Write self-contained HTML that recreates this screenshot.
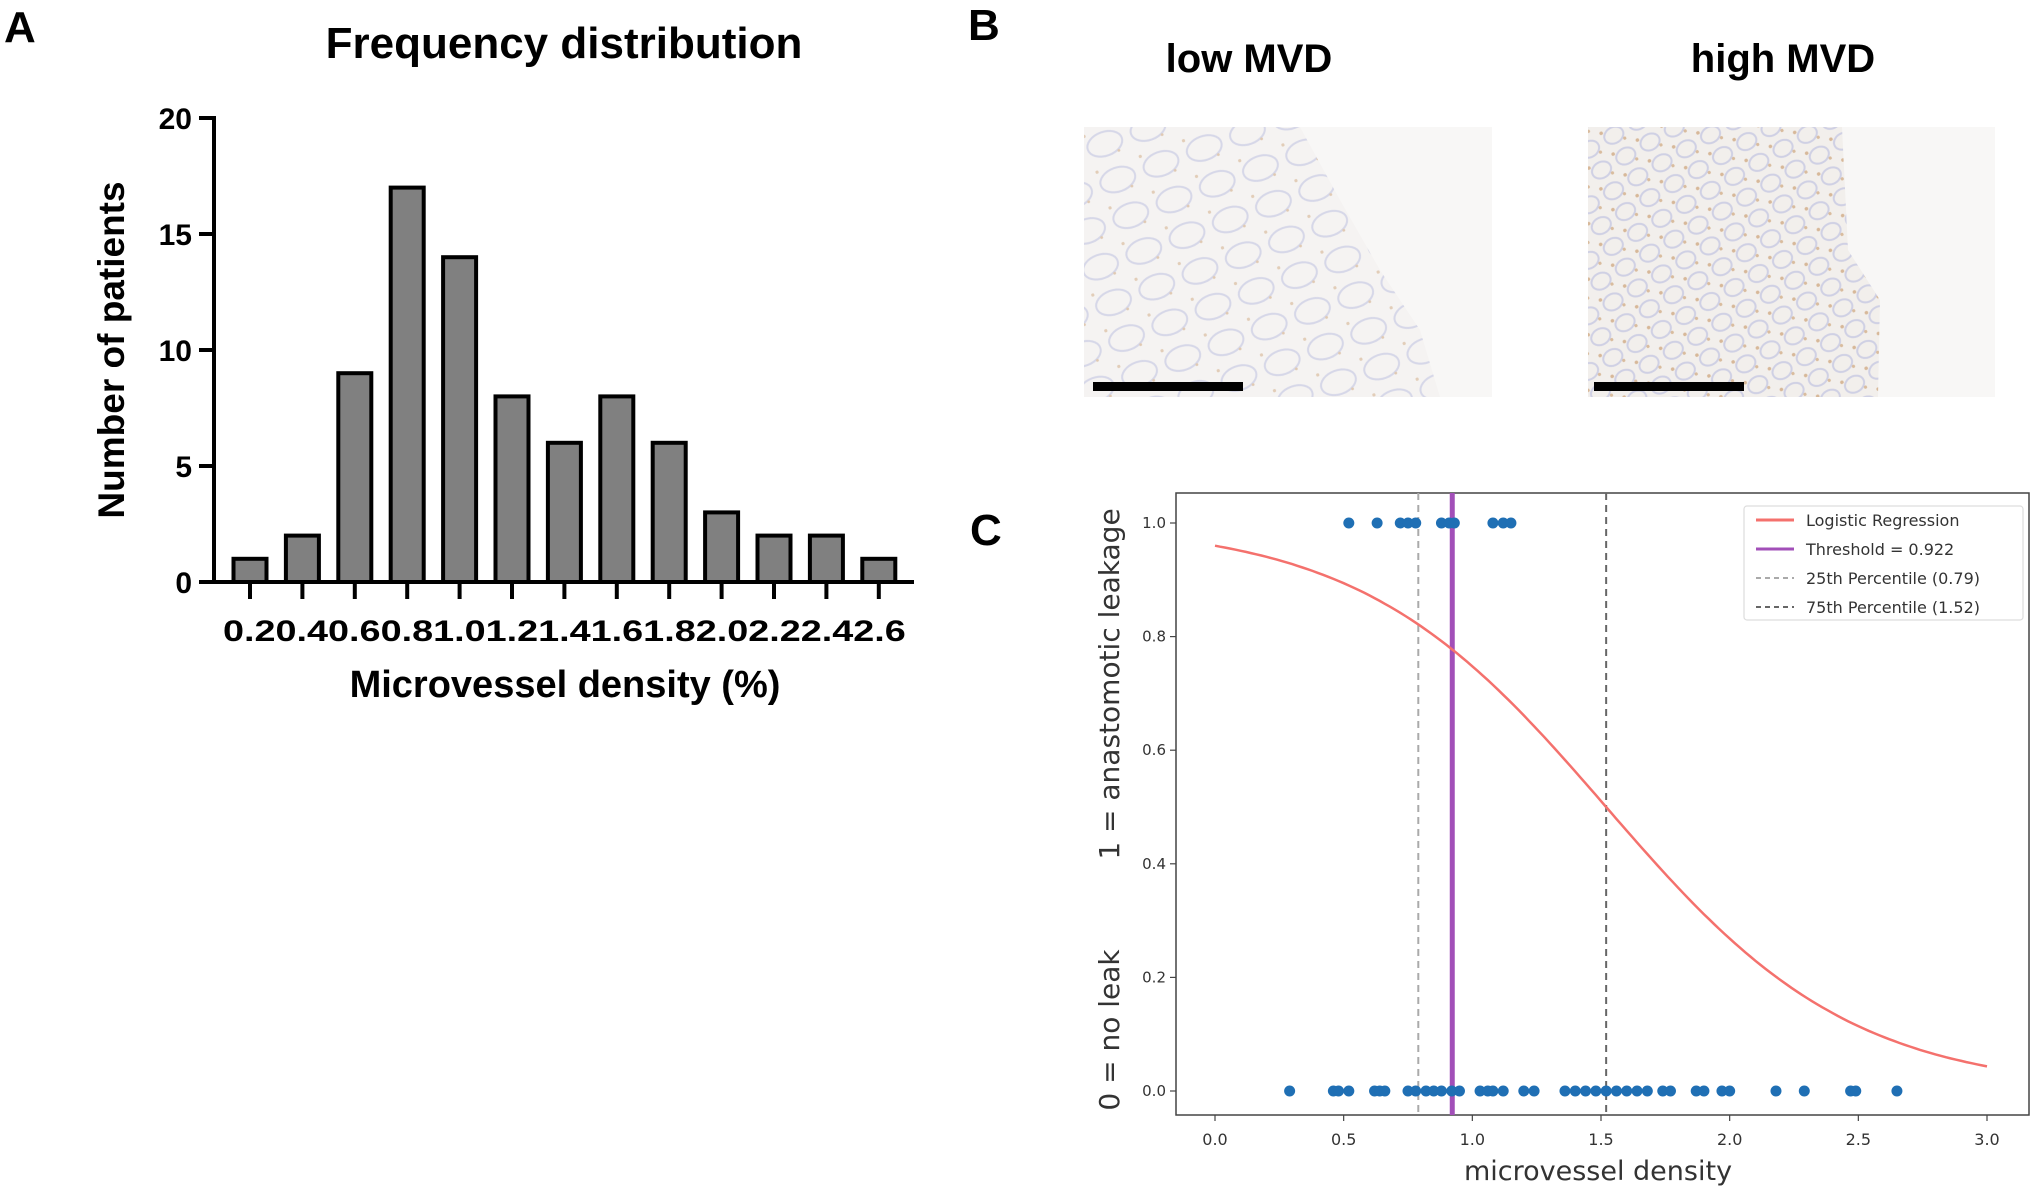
<!DOCTYPE html>
<html><head><meta charset="utf-8"><style>
html,body{margin:0;padding:0;background:#fff;}
svg{display:block;font-family:"Liberation Sans",Arial,sans-serif;}
</style></head><body>
<svg id="fig" width="2034" height="1192" viewBox="0 0 2034 1192" xmlns="http://www.w3.org/2000/svg">
<defs>
<pattern id="tissue" width="46" height="38" patternUnits="userSpaceOnUse" patternTransform="rotate(-20)">
<rect width="46" height="38" fill="#f5f3f2"/>
<ellipse cx="23" cy="19" rx="18" ry="12" fill="none" stroke="#d6d7e8" stroke-width="2"/>
<circle cx="6" cy="5" r="1.6" fill="#e2cdb8"/>
<circle cx="34" cy="30" r="1.4" fill="#e0c9b2"/>
</pattern>
<pattern id="tissue2" width="28" height="24" patternUnits="userSpaceOnUse" patternTransform="rotate(-30)">
<rect width="28" height="24" fill="#f2efec"/>
<ellipse cx="14" cy="12" rx="10" ry="8" fill="none" stroke="#cfd0e4" stroke-width="2"/>
<circle cx="4" cy="4" r="1.8" fill="#d7b899"/>
<circle cx="22" cy="20" r="1.6" fill="#d9bc9e"/>
</pattern>
</defs>

<!-- Panel A -->
<text x="4" y="42" font-size="44" font-weight="bold">A</text>
<text x="564" y="58" font-size="44" font-weight="bold" text-anchor="middle">Frequency distribution</text>
<g id="hist"></g>
<text transform="translate(124,350) rotate(-90)" font-size="37" font-weight="bold" text-anchor="middle">Number of patients</text>
<text x="565" y="697" font-size="38" font-weight="bold" text-anchor="middle">Microvessel density (%)</text>

<!-- Panel B -->
<text x="968" y="40" font-size="44" font-weight="bold">B</text>
<text x="1249" y="72" font-size="40" font-weight="bold" text-anchor="middle">low MVD</text>
<text x="1783" y="72" font-size="40" font-weight="bold" text-anchor="middle">high MVD</text>
<g>
<rect x="1084" y="127" width="408" height="270" fill="#f8f7f6"/>
<polygon points="1084,127 1300,127 1340,200 1380,270 1420,330 1440,397 1084,397" fill="url(#tissue)"/>
<rect x="1093" y="382" width="150" height="9" fill="#000"/>
</g>
<g>
<rect x="1588" y="127" width="407" height="270" fill="#f8f7f6"/>
<polygon points="1588,127 1842,127 1848,250 1880,300 1878,397 1588,397" fill="url(#tissue2)"/>
<rect x="1594" y="382" width="150" height="9" fill="#000"/>
</g>

<!-- Panel C -->
<text x="970" y="545" font-size="44" font-weight="bold">C</text>
<g id="logit"></g>
</svg>
<script>
const NS="http://www.w3.org/2000/svg";
function mk(parent,tag,attrs,text){const e=document.createElementNS(NS,tag);for(const k in attrs)e.setAttribute(k,attrs[k]);if(text!==undefined)e.textContent=text;parent.appendChild(e);return e;}

// ---- Histogram data ----
const binLabels=["0.2","0.4","0.6","0.8","1.0","1.2","1.4","1.6","1.8","2.0","2.2","2.4","2.6"];
const binCounts=[1,2,9,17,14,8,6,8,6,3,2,2,1];
const yTicksA=[0,5,10,15,20];

const hist=document.getElementById('hist');
const ax0=214, ay0=582, ayTop=118, firstC=250, step=52.4, bw=33;
const yA=v=>ay0-(v/20)*(ay0-ayTop);
const xA=i=>firstC+i*step;
binCounts.forEach((c,i)=>{
  const r=mk(hist,'rect',{x:xA(i)-bw/2,y:yA(c),width:bw,height:ay0-yA(c),fill:'#808080',stroke:'#000','stroke-width':4});
  
  
  const t=mk(hist,'line',{x1:xA(i),x2:xA(i),y1:ay0,y2:ay0+17,stroke:'#000','stroke-width':4});
  
  
});
let lbl=mk(hist,'text',{x:xA(0)-27,y:641,'font-size':30,'font-weight':'bold',textLength:(xA(12)-xA(0))+54,lengthAdjust:'spacingAndGlyphs'},binLabels.join(''));


yTicksA.forEach(v=>{
  const t=mk(hist,'line',{x1:ax0-15,x2:ax0,y1:yA(v),y2:yA(v),stroke:'#000','stroke-width':4});
  
  
  const l=mk(hist,'text',{x:ax0-22,y:yA(v)+11,'font-size':30,'font-weight':'bold','text-anchor':'end'},v);
  
  
});
let ya=mk(hist,'line',{x1:ax0,x2:ax0,y1:ayTop-2,y2:ay0+2,stroke:'#000','stroke-width':4});


let xa=mk(hist,'line',{x1:ax0-2,x2:914,y1:ay0,y2:ay0,stroke:'#000','stroke-width':4});



// ---- Logistic chart data ----
const leakX=[0.52,0.63,0.72,0.75,0.78,0.88,0.91,0.93,1.08,1.12,1.15];
const noLeakX=[0.29,0.46,0.48,0.52,0.62,0.64,0.66,0.75,0.78,0.82,0.85,0.88,0.92,0.95,1.03,1.06,1.08,1.12,1.2,1.24,1.36,1.4,1.44,1.48,1.52,1.56,1.6,1.64,1.68,1.74,1.77,1.87,1.9,1.97,2.0,2.18,2.29,2.47,2.49,2.65];
const logitParams=[1.52,2.09]; // midpoint, slope
const thresholdValue=0.922;
const percentiles=[0.79,1.52];
const xTicksC=[0,0.5,1.0,1.5,2.0,2.5,3.0];
const yTicksC=[0,0.2,0.4,0.6,0.8,1.0];

const g=document.getElementById('logit');
const bx0=1176,bx1=2029,by0=493,by1=1115;
const xC=v=>1215+v/3*(1987-1215);
const yC=v=>1091-v*(1091-523);
let fr=mk(g,'rect',{x:bx0,y:by0,width:bx1-bx0,height:by1-by0,fill:'#fff',stroke:'#444','stroke-width':1.5});


xTicksC.forEach(v=>{
  mk(g,'line',{x1:xC(v),x2:xC(v),y1:by1,y2:by1+6,stroke:'#444','stroke-width':1.2});
  const l=mk(g,'text',{x:xC(v),y:1145,'font-size':16,fill:'#333','text-anchor':'middle','font-family':'DejaVu Sans, sans-serif'},v.toFixed(1));
  
  
});
yTicksC.forEach(v=>{
  mk(g,'line',{x1:bx0-6,x2:bx0,y1:yC(v),y2:yC(v),stroke:'#444','stroke-width':1.2});
  const l=mk(g,'text',{x:bx0-10,y:yC(v)+5,'font-size':15,fill:'#333','text-anchor':'end','font-family':'DejaVu Sans, sans-serif'},v.toFixed(1));
  
  
});
let p25=mk(g,'line',{x1:xC(percentiles[0]),x2:xC(percentiles[0]),y1:by0,y2:by1,stroke:'#aaa','stroke-width':2,'stroke-dasharray':'7,5'});


let p75=mk(g,'line',{x1:xC(percentiles[1]),x2:xC(percentiles[1]),y1:by0,y2:by1,stroke:'#666','stroke-width':2,'stroke-dasharray':'7,5'});


let th=mk(g,'line',{x1:xC(thresholdValue),x2:xC(thresholdValue),y1:by0,y2:by1,stroke:'#a24fb8','stroke-width':5});


let d='';
for(let i=0;i<=150;i++){const x=3*i/150;const p=1/(1+Math.exp(logitParams[1]*(x-logitParams[0])));d+=(i?'L':'M')+xC(x).toFixed(1)+','+yC(p).toFixed(1);}
let cv=mk(g,'path',{d:d,fill:'none',stroke:'#f4716d','stroke-width':2.5});


leakX.forEach(x=>{const c=mk(g,'circle',{cx:xC(x),cy:yC(1),r:5.5,fill:'#1f6fb4'});

});
noLeakX.forEach(x=>{const c=mk(g,'circle',{cx:xC(x),cy:yC(0),r:5.5,fill:'#1f6fb4'});

});
const lg=mk(g,'g',{});


mk(lg,'rect',{x:1744,y:506,width:279,height:114,fill:'#fff',stroke:'#ddd','stroke-width':1.2,rx:3});
const legItems=[['Logistic Regression','#f4716d',null,3],['Threshold = 0.922','#a24fb8',null,3],['25th Percentile (0.79)','#aaa','5,4',2],['75th Percentile (1.52)','#666','5,4',2]];
legItems.forEach((it,i)=>{const y=520+i*29;
  const ln=mk(lg,'line',{x1:1756,x2:1794,y1:y,y2:y,stroke:it[1],'stroke-width':it[3]});
  if(it[2])ln.setAttribute('stroke-dasharray',it[2]);
  const t=mk(lg,'text',{x:1806,y:y+6,'font-size':16,fill:'#333','font-family':'DejaVu Sans, sans-serif'},it[0]);
  
  
});
let xt=mk(g,'text',{x:1598,y:1180,'font-size':27,fill:'#333','text-anchor':'middle','font-family':'DejaVu Sans, sans-serif'},'microvessel density');


let yt1=mk(g,'text',{transform:'translate(1119,684) rotate(-90)','font-size':28,fill:'#333','text-anchor':'middle','font-family':'DejaVu Sans, sans-serif'},'1 = anastomotic leakage');


let yt2=mk(g,'text',{transform:'translate(1119,1030) rotate(-90)','font-size':28,fill:'#333','text-anchor':'middle','font-family':'DejaVu Sans, sans-serif'},'0 = no leak');


</script>
</body></html>
